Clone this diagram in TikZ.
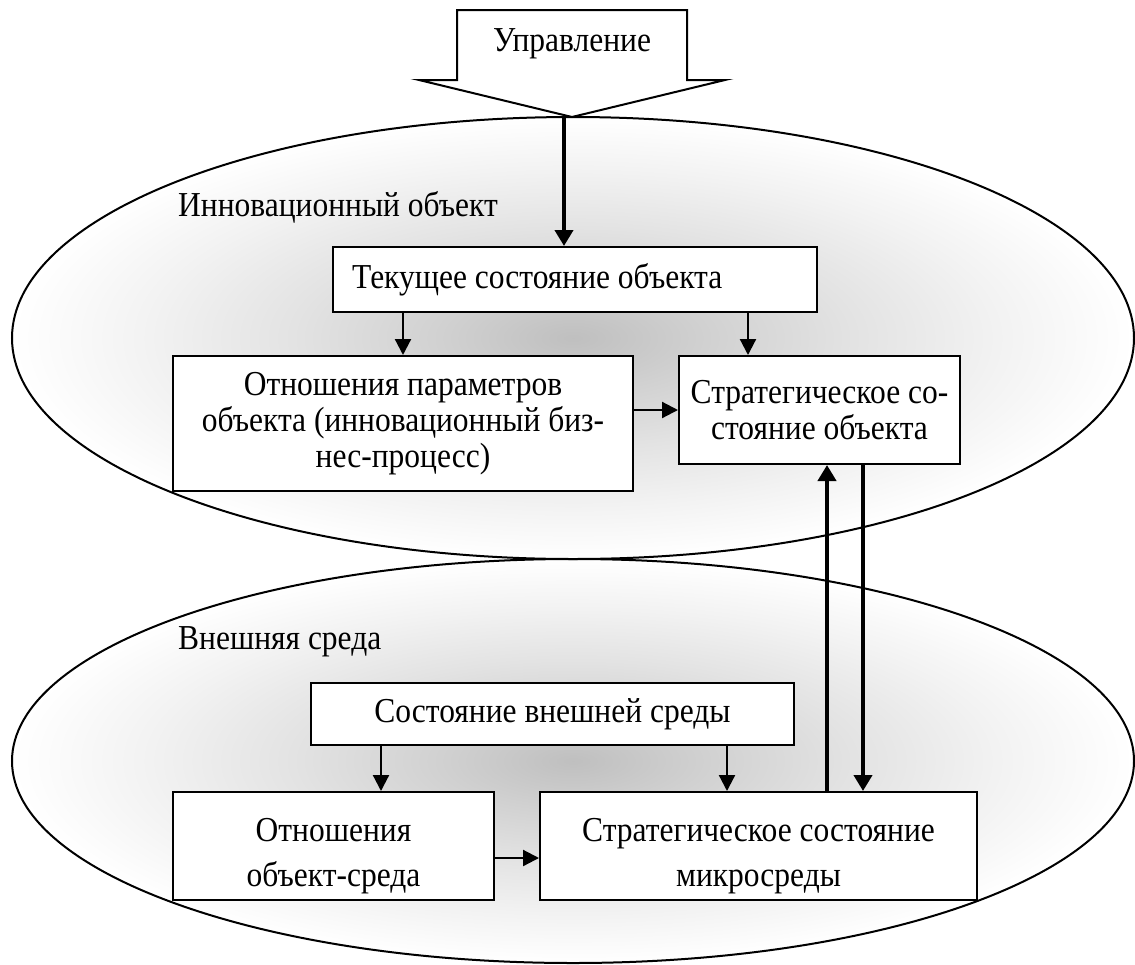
\documentclass[tikz,border=0pt]{standalone}
\usepackage{fontspec}
\setmainfont[FakeStretch=0.9]{Liberation Serif}
\usetikzlibrary{arrows.meta,calc}
\pgfdeclareradialshading{ellshade}{\pgfpointorigin}{color(0bp)=(black!25); color(6bp)=(black!18); color(12.5bp)=(black!11); color(19bp)=(black!5); color(25bp)=(white); color(50bp)=(white)}
\begin{document}
\begin{tikzpicture}[x=1pt,y=-1pt,
  every node/.style={font=\fontsize{35}{36}\selectfont},
  box/.style={draw, fill=white, line width=2pt, inner sep=0pt, align=center},
  txt/.style={align=center, inner sep=0pt},
  ell/.style={draw, line width=2pt, shading=ellshade},
  thinarr/.style={line width=2.2pt, -{Triangle[length=16pt,width=16pt]}},
  thickarr/.style={line width=4.5pt, -{Triangle[length=16pt,width=18pt]}},
  lbl/.style={anchor=west, inner sep=0pt}]
\useasboundingbox (0,0) rectangle (1135,964);
% ellipses
\shade[ell] (573,761) ellipse [x radius=561pt, y radius=202pt];
\shade[ell] (573,338) ellipse [x radius=561pt, y radius=221pt];
% control arrow shape
\draw[line width=2pt, fill=white, line join=miter] (457,10) -- (687,10) -- (687,80) -- (725,80) -- (572,117) -- (419,80) -- (457,80) -- cycle;
\node (upr) at (572,44) {Управление};
\coordinate (uprtip) at (564,117);
% labels
\node[lbl] (innlbl) at (178,207) {Инновационный объект};
\node[lbl] (envlbl) at (178,642) {Внешняя среда};
% boxes
\node[box, minimum width=484pt, minimum height=65pt] (tek) at (575,279.5) {};
\node[lbl] (tektxt) at (352,279.5) {Текущее состояние объекта};
\node[box, minimum width=460pt, minimum height=135pt] (otn) at (403,423.5) {Отношения параметров\\объекта (инновационный биз-\\нес-процесс)};
\node[box, minimum width=281pt, minimum height=108pt] (str) at (819.5,410) {Стратегическое со-\\стояние объекта};
\node[box, minimum width=483pt, minimum height=62pt] (sost) at (552.5,714) {Состояние внешней среды};
\node[box, minimum width=321pt, minimum height=108pt] (otnsr) at (333.5,846) {};
\node[txt] (otnsrtxt) at (333.5,856) {Отношения\\[9pt]объект-среда};
\node[box, minimum width=437pt, minimum height=108pt] (micro) at (758.5,846) {};
\node[txt] (microtxt) at (758.5,856) {Стратегическое состояние\\[9pt]микросреды};
% connectors
\draw[thickarr] (uprtip) -- (uprtip |- tek.north);
\draw[thinarr] (tek.south -| otn.north) -- (otn.north);
\draw[thinarr] (tek.south -| 748,0) -- (str.north -| 748,0);
\draw[thinarr] (otn.east |- str.west) -- (str.west);
\draw[thickarr] (micro.north -| 827,0) -- (str.south -| 827,0);
\draw[thickarr] (str.south -| 863,0) -- (micro.north -| 863,0);
\draw[thinarr] (sost.south -| 381,0) -- (otnsr.north -| 381,0);
\draw[thinarr] (sost.south -| 727,0) -- (micro.north -| 727,0);
\draw[thinarr] (otnsr.east |- 0,858) -- (micro.west |- 0,858);
\end{tikzpicture}
\end{document}
